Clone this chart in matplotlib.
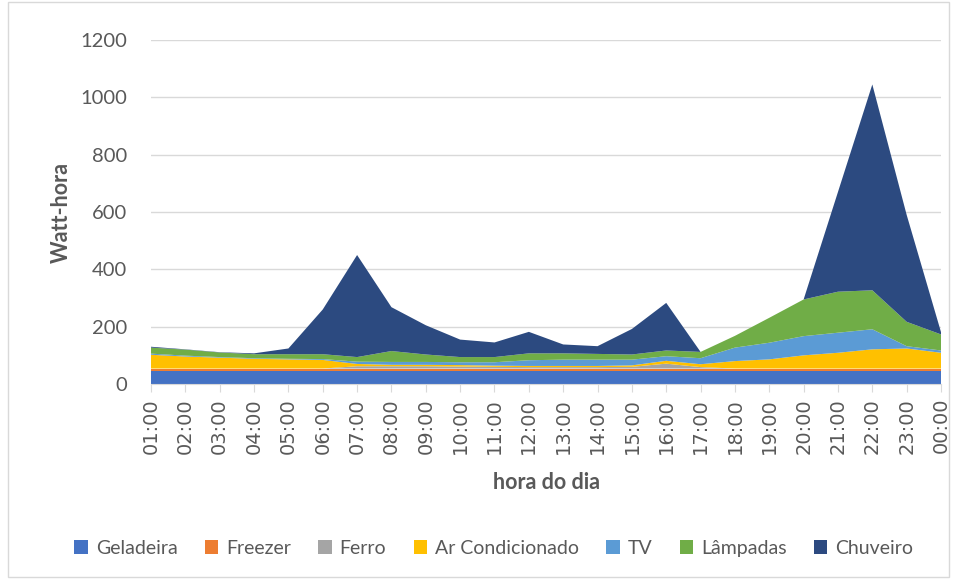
import numpy as np
import matplotlib.pyplot as plt
from matplotlib.patches import Rectangle

horas = ['01:00', '02:00', '03:00', '04:00', '05:00', '06:00', '07:00', '08:00',
         '09:00', '10:00', '11:00', '12:00', '13:00', '14:00', '15:00', '16:00',
         '17:00', '18:00', '19:00', '20:00', '21:00', '22:00', '23:00', '00:00']

geladeira = [46] * 24
freezer = [8] * 24
ferro = [0, 0, 0, 0, 0, 0, 8, 8, 8, 7, 6, 5, 5, 5, 6, 17, 5, 0, 0, 0, 0, 0, 0, 0]
ar_cond = [48, 42, 38, 34, 32, 30, 8, 5, 5, 5, 4, 4, 4, 4, 5, 10, 10, 26, 32, 46, 55, 67, 70, 55]
tv = [4, 3, 2, 2, 2, 3, 8, 10, 10, 10, 12, 20, 22, 22, 20, 16, 21, 47, 58, 67, 70, 70, 8, 8]
lampadas = [21, 21, 16, 14, 16, 17, 16, 38, 26, 18, 18, 24, 22, 20, 18, 20, 22, 41, 87, 128, 143, 136, 85, 56]
chuveiro = [3, 1, 1, 3, 20, 156, 356, 153, 102, 61, 51, 75, 31, 27, 89, 166, 0, 0, 0, 0, 348, 718, 373, 8]

nomes = ['Geladeira', 'Freezer', 'Ferro', 'Ar Condicionado', 'TV', 'Lâmpadas', 'Chuveiro']
cores = ['#4472C4', '#ED7D31', '#A5A5A5', '#FFC000', '#5B9BD5', '#70AD47', '#2C4A80']

plt.rcParams['font.family'] = ['Lato', 'DejaVu Sans']
cinza = '#595959'

fig = plt.figure(figsize=(9.57, 5.8), dpi=100)
fig.patches.append(Rectangle((0.008, 0.006), 0.984, 0.99, transform=fig.transFigure,
                             fill=False, edgecolor='#D9D9D9', linewidth=1))
ax = fig.add_axes([0.1578, 0.3379, 0.8255, 0.5931])

x = np.arange(len(horas))
ax.stackplot(x, geladeira, freezer, ferro, ar_cond, tv, lampadas, chuveiro,
             labels=nomes, colors=cores, linewidth=0)

ax.set_xlim(0, len(horas) - 1)
ax.set_ylim(0, 1200)
ax.set_yticks(range(0, 1201, 200))
ax.grid(axis='y', color='#D9D9D9', linewidth=1)
ax.set_axisbelow(True)

ax.set_xticks(x)
ax.set_xticklabels(horas, rotation=90, fontsize=14, color=cinza, family='DejaVu Sans')
ax.tick_params(axis='x', length=6, color='#D9D9D9', pad=4)
ax.tick_params(axis='y', length=0, labelsize=14.5, labelcolor=cinza, pad=17)

for s in ['top', 'right', 'left']:
    ax.spines[s].set_visible(False)
ax.spines['bottom'].set_color('#D9D9D9')

ax.set_xlabel('hora do dia', fontsize=15.5, fontweight='bold', color=cinza, labelpad=13)
ax.set_ylabel('Watt-hora', fontsize=15.5, fontweight='bold', color=cinza, labelpad=6)

fig.legend(loc='center', bbox_to_anchor=(0.516, 0.055), ncol=7, frameon=False,
           fontsize=14, handlelength=0.7, handleheight=0.7, handletextpad=0.4,
           columnspacing=1.4, labelcolor=cinza)

plt.savefig('out.png', dpi=100)
